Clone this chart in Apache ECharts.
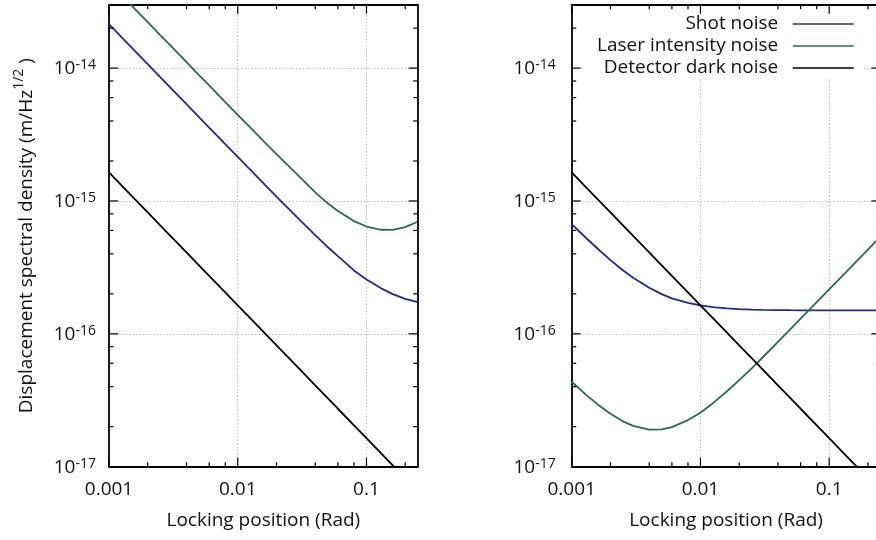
<!DOCTYPE html>
<html>
<head>
<meta charset="utf-8">
<script src="https://cdn.jsdelivr.net/npm/echarts@6/dist/echarts.min.js"></script>
<style>
html,body{margin:0;padding:0;background:#fff;}
#chart{width:876px;height:540px;}
</style>
</head>
<body>
<div id="chart"></div>
<script>
// ---- data ----
const lockingPosition = [0.001, 0.0013, 0.0016, 0.002, 0.0025, 0.003, 0.004, 0.005, 0.006, 0.008,
  0.01, 0.013, 0.016, 0.02, 0.025, 0.03, 0.04, 0.05, 0.06, 0.08, 0.1, 0.13, 0.16, 0.2, 0.25];

// left panel
const leftShotNoise = [2.14e-14, 1.646e-14, 1.338e-14, 1.07e-14, 8.56e-15, 7.13e-15, 5.35e-15, 4.28e-15, 3.57e-15, 2.68e-15,
  2.145e-15, 1.653e-15, 1.346e-15, 1.08e-15, 8.69e-16, 7.28e-16, 5.54e-16, 4.5e-16, 3.84e-16, 3.0e-16,
  2.56e-16, 2.2e-16, 1.99e-16, 1.83e-16, 1.73e-16];
const leftLaserNoise = [4.43e-14, 3.41e-14, 2.77e-14, 2.22e-14, 1.77e-14, 1.48e-14, 1.11e-14, 8.87e-15, 7.4e-15, 5.55e-15,
  4.45e-15, 3.44e-15, 2.8e-15, 2.25e-15, 1.82e-15, 1.53e-15, 1.16e-15, 9.6e-16, 8.4e-16, 7.05e-16,
  6.42e-16, 6.07e-16, 6.05e-16, 6.35e-16, 6.97e-16];
const leftDarkNoise = [1.64e-15, 1.262e-15, 1.025e-15, 8.2e-16, 6.56e-16, 5.47e-16, 4.1e-16, 3.28e-16, 2.73e-16, 2.05e-16,
  1.64e-16, 1.262e-16, 1.025e-16, 8.2e-17, 6.56e-17, 5.47e-17, 4.1e-17, 3.28e-17, 2.73e-17, 2.05e-17,
  1.64e-17, 1.262e-17, 1.025e-17, 8.2e-18, 6.56e-18];

// right panel
const rightShotNoise = [6.7e-16, 5.24e-16, 4.35e-16, 3.59e-16, 3.01e-16, 2.64e-16, 2.22e-16, 1.99e-16, 1.85e-16, 1.71e-16,
  1.635e-16, 1.58e-16, 1.555e-16, 1.535e-16, 1.523e-16, 1.516e-16, 1.509e-16, 1.506e-16, 1.504e-16, 1.502e-16,
  1.501e-16, 1.5e-16, 1.5e-16, 1.5e-16, 1.5e-16];
const rightLaserNoise = [4.36e-17, 3.46e-17, 2.93e-17, 2.5e-17, 2.195e-17, 2.027e-17, 1.9e-17, 1.907e-17, 1.984e-17, 2.243e-17,
  2.55e-17, 3.1e-17, 3.68e-17, 4.48e-17, 5.5e-17, 6.55e-17, 8.7e-17, 1.085e-16, 1.3e-16, 1.73e-16,
  2.16e-16, 2.8e-16, 3.45e-16, 4.31e-16, 5.39e-16];
const rightDarkNoise = [1.64e-15, 1.262e-15, 1.025e-15, 8.2e-16, 6.56e-16, 5.47e-16, 4.1e-16, 3.28e-16, 2.73e-16, 2.05e-16,
  1.64e-16, 1.262e-16, 1.025e-16, 8.2e-17, 6.56e-17, 5.47e-17, 4.1e-17, 3.28e-17, 2.73e-17, 2.05e-17,
  1.64e-17, 1.262e-17, 1.025e-17, 8.2e-18, 6.56e-18];

const seriesNames = ['Shot noise', 'Laser intensity noise', 'Detector dark noise'];

// axes / ticks
const xRange = [0.001, 0.25];
const yRange = [1e-17, 3e-14];
const xMajorTicks = [0.001, 0.01, 0.1];
const xMinorTicks = [0.002, 0.004, 0.006, 0.008, 0.02, 0.04, 0.06, 0.08, 0.2];
const yMajorTicks = [1e-17, 1e-16, 1e-15, 1e-14];
const yMinorTicks = [2e-17, 4e-17, 6e-17, 8e-17, 2e-16, 4e-16, 6e-16, 8e-16, 2e-15, 4e-15, 6e-15, 8e-15, 2e-14];

const xTitle = 'Locking position (Rad)';
const yTitle = '{n|Displacement spectral density (m/Hz}{s|1/2}{n| )}';

// ---- styling ----
const FONT = '"Open Sans", sans-serif';
const TXT = '#111';
const COLORS = ['#27278c', '#2b6a50', '#000000'];
const FRAME = { color: '#000', width: 1.8 };
const GRIDLINE = { color: '#b8b8b8', width: 1, type: [1.2, 2.2] };
const MAJOR_LEN = 9, MINOR_LEN = 4.5;
const X_LABEL_MARGIN = 13;
const Y_LABEL_MARGINS = [13, 16];
const Y_RICH = {
  b: { fontFamily: FONT, fontSize: 19, color: TXT, fill: TXT, lineHeight: 20, verticalAlign: 'bottom' },
  s: { fontFamily: FONT, fontSize: 14, color: TXT, fill: TXT, lineHeight: 20, verticalAlign: 'top' }
};
const xLabelText = v => String(v);
const yLabelText = v => '{b|10}{s|' + Math.round(Math.log10(v)) + '}';

const grids = [
  { left: 109, top: 4.7, width: 308.7, height: 462, outerBoundsMode: 'none', containLabel: false },
  { left: 571.7, top: 4.7, width: 308.7, height: 462, outerBoundsMode: 'none', containLabel: false }
];

function xAxesFor(g) {
  const base = { type: 'log', logBase: 10, gridIndex: g, min: xRange[0], max: xRange[1],
    axisTick: { show: false }, minorTick: { show: false }, minorSplitLine: { show: false } };
  return [
    Object.assign({}, base, {
      position: 'bottom',
      axisLine: { show: true, onZero: false, lineStyle: FRAME },
      axisLabel: { show: true, customValues: xMajorTicks, showMaxLabel: false, margin: X_LABEL_MARGIN,
        formatter: xLabelText, fontFamily: FONT, fontSize: 19, color: TXT },
      splitLine: { show: true, showMinLine: false, showMaxLine: false, lineStyle: GRIDLINE },
      name: xTitle, nameLocation: 'middle', nameGap: 44, nameMoveOverlap: false,
      nameTextStyle: { fontFamily: FONT, fontSize: 19, color: TXT }
    }),
    Object.assign({}, base, {
      position: 'top',
      axisLine: { show: true, onZero: false, lineStyle: FRAME },
      axisLabel: { show: false }, splitLine: { show: false }
    })
  ];
}

function yAxesFor(g, withName) {
  const base = { type: 'log', logBase: 10, gridIndex: g, min: yRange[0], max: yRange[1],
    axisTick: { show: false }, minorTick: { show: false }, minorSplitLine: { show: false } };
  const main = Object.assign({}, base, {
    position: 'left',
    axisLine: { show: true, onZero: false, lineStyle: FRAME },
    axisLabel: {
      show: true, customValues: yMajorTicks, showMaxLabel: false, margin: Y_LABEL_MARGINS[g],
      formatter: yLabelText, rich: Y_RICH
    },
    splitLine: { show: true, showMinLine: false, showMaxLine: false, lineStyle: GRIDLINE }
  });
  if (withName) {
    Object.assign(main, {
      name: yTitle, nameLocation: 'middle', nameGap: 73, nameMoveOverlap: false,
      nameTextStyle: {
        fontFamily: FONT, fontSize: 19, color: TXT,
        rich: {
          n: { fontFamily: FONT, fontSize: 19, color: TXT, lineHeight: 24, verticalAlign: 'bottom' },
          s: { fontFamily: FONT, fontSize: 14, color: TXT, lineHeight: 24, verticalAlign: 'top' }
        }
      }
    });
  }
  return [
    main,
    Object.assign({}, base, {
      position: 'right',
      axisLine: { show: true, onZero: false, lineStyle: FRAME },
      axisLabel: { show: false }, splitLine: { show: false }
    })
  ];
}

const xAxis = xAxesFor(0).concat(xAxesFor(1));
const yAxis = yAxesFor(0, true).concat(yAxesFor(1, false));

// tick marks on all four sides
function buildTickList() {
  const list = [];
  const addX = (vals, major) => vals.forEach(v => {
    list.push({ x: v, y: yRange[0], side: 'bottom', major: major });
    list.push({ x: v, y: yRange[1], side: 'top', major: major });
  });
  const addY = (vals, major) => vals.forEach(v => {
    list.push({ x: xRange[0], y: v, side: 'left', major: major });
    list.push({ x: xRange[1], y: v, side: 'right', major: major });
  });
  addX(xMajorTicks, true); addX(xMinorTicks, false);
  addY(yMajorTicks, true); addY(yMinorTicks, false);
  return list;
}
const tickList = buildTickList();

function lineSeries(name, values, colorIdx, axisIdx) {
  return {
    type: 'line', name: name, xAxisIndex: axisIdx, yAxisIndex: axisIdx,
    data: lockingPosition.map((x, i) => [x, values[i]]),
    symbol: 'none', showSymbol: false, clip: true, color: COLORS[colorIdx],
    lineStyle: { width: 1.8, color: COLORS[colorIdx] }, z: 2 + colorIdx * 0.1,
    emphasis: { disabled: true }
  };
}

const series = [
  lineSeries(seriesNames[0], leftShotNoise, 0, 0),
  lineSeries(seriesNames[1], leftLaserNoise, 1, 0),
  lineSeries(seriesNames[2], leftDarkNoise, 2, 0),
  lineSeries(seriesNames[0], rightShotNoise, 0, 2),
  lineSeries(seriesNames[1], rightLaserNoise, 1, 2),
  lineSeries(seriesNames[2], rightDarkNoise, 2, 2)
];

const legendTops = [14.5, 36.5, 58.5];
const legend = seriesNames.map((name, i) => ({
  data: [name], orient: 'vertical', right: 22.3, top: legendTops[i], padding: 0,
  align: 'right', itemWidth: 61, itemHeight: 1.4, icon: 'rect', selectedMode: false,
  formatter: n => n + '\u2002',
  textStyle: { fontFamily: FONT, fontSize: 19, color: TXT }
}));

const chart = echarts.init(document.getElementById('chart'), null, { renderer: 'canvas' });
chart.setOption({
  animation: false,
  backgroundColor: '#fff',
  grid: grids,
  xAxis: xAxis,
  yAxis: yAxis,
  legend: legend,
  series: series
});

// white box behind the legend, tick marks and the last major labels, all placed through the axes' scales
const graphics = [{
  type: 'rect', z: 1, silent: true,
  shape: { x: 583, y: 15, width: 279, height: 63 },
  style: { fill: '#fff' }
}];
[0, 1].forEach(g => {
  const finder = { xAxisIndex: 2 * g, yAxisIndex: 2 * g };
  tickList.forEach(t => {
    const p = chart.convertToPixel(finder, [t.x, t.y]);
    if (!p || isNaN(p[0]) || isNaN(p[1])) return;
    const L = t.major ? MAJOR_LEN : MINOR_LEN;
    let x2 = p[0], y2 = p[1];
    if (t.side === 'bottom') y2 -= L;
    else if (t.side === 'top') y2 += L;
    else if (t.side === 'left') x2 += L;
    else x2 -= L;
    graphics.push({
      type: 'line', z: 5, silent: true,
      shape: { x1: p[0], y1: p[1], x2: x2, y2: y2 },
      style: { stroke: '#000', lineWidth: 1.2 }
    });
  });
  // last x label
  const xv = xMajorTicks[xMajorTicks.length - 1];
  const px = chart.convertToPixel(finder, [xv, yRange[0]]);
  if (px && !isNaN(px[0])) {
    graphics.push({
      type: 'text', z: 5, silent: true,
      style: { text: xLabelText(xv), x: px[0], y: px[1] + X_LABEL_MARGIN, fill: TXT,
        fontFamily: FONT, fontSize: 19, align: 'center', verticalAlign: 'top' }
    });
  }
  // last y label
  const yv = yMajorTicks[yMajorTicks.length - 1];
  const py = chart.convertToPixel(finder, [xRange[0], yv]);
  if (py && !isNaN(py[1])) {
    graphics.push({
      type: 'text', z: 5, silent: true,
      style: { text: yLabelText(yv), rich: Y_RICH, x: py[0] - Y_LABEL_MARGINS[g], y: py[1], fill: TXT,
        fontFamily: FONT, fontSize: 19, align: 'right', verticalAlign: 'middle' }
    });
  }
});
chart.setOption({ graphic: graphics });
</script>
</body>
</html>
